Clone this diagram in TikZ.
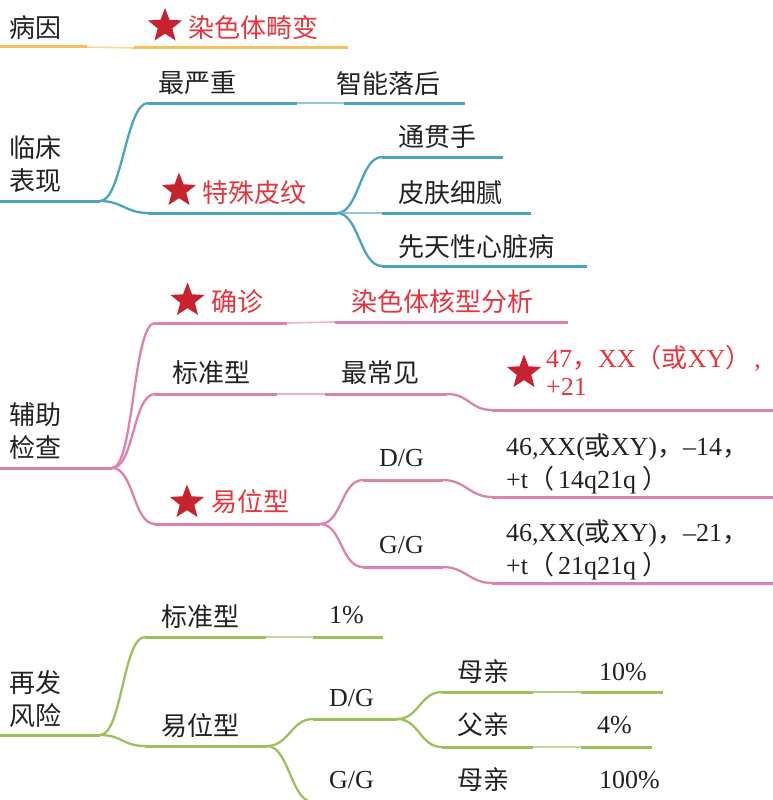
\documentclass[tikz,border=0pt]{standalone}
\usepackage{fontspec}
\setmainfont{Liberation Serif}
\newfontfamily\zhfont{Noto Sans CJK SC}
\usetikzlibrary{shapes.geometric}
\definecolor{cOr}{HTML}{F6BE5C}
\definecolor{cBl}{HTML}{4BA3C4}
\definecolor{cPk}{HTML}{DC82AC}
\definecolor{cGr}{HTML}{9CC05C}
\definecolor{cRed}{HTML}{E8343C}
\definecolor{cStar}{HTML}{C8222E}
\definecolor{cTxt}{HTML}{222222}
\newcommand\zh[1]{{\zhfont #1}}
\begin{document}
\begin{tikzpicture}[x=1pt,y=-1pt,
  lbl/.style={anchor=west,inner sep=0pt,text=cTxt,font=\zhfont\fontsize{26}{32}\selectfont,align=left},
  lbltwo/.style={lbl,font=\zhfont\fontsize{26}{33}\selectfont},
  lat/.style={anchor=west,inner sep=0pt,text=cTxt,font=\fontsize{26}{32}\selectfont,align=left},
  redlbl/.style={lbl,text=cRed},
  redlat/.style={lat,text=cRed},
  starmark/.style={star,star points=5,star point ratio=2.35,minimum size=36pt,inner sep=0pt,fill=cStar,draw=none},
  mainline/.style={line width=3pt},
  thinline/.style={line width=1.6pt},
  curveline/.style={line width=2.3pt},
]
\useasboundingbox (0,0) rectangle (773,800);
\newcommand\conn[3]{\draw[curveline,#1] (#2) .. controls +(22,0) and +(-22,0) .. (#3);}

% ---------------- orange: 病因
\coordinate (o0) at (0,47);
\coordinate (o1) at (87,47);
\coordinate (o2) at (134,48);
\coordinate (o3) at (348,48);
\draw[mainline,cOr] (o0)--(o1);
\draw[thinline,cOr!60] (o1)--(o2);
\draw[mainline,cOr] (o2)--(o3);
\node[lbl] (bingyin) at (9,28) {病因};
\node[starmark] (s1) at (165,26) {};
\node[redlbl] (jibian) at (188,28) {染色体畸变};

% ---------------- blue: 临床表现
\coordinate (b0) at (0,201);
\coordinate (b1) at (100,201);
\coordinate (b2) at (148,103);
\coordinate (b3) at (297,103);
\coordinate (b4) at (344,103);
\coordinate (b5) at (465,103);
\coordinate (b6) at (148,213);
\coordinate (b7) at (337,213);
\coordinate (b8) at (382,157);
\coordinate (b9) at (503,157);
\coordinate (b10) at (382,213);
\coordinate (b11) at (531,213);
\coordinate (b12) at (382,266);
\coordinate (b13) at (587,266);
\draw[mainline,cBl] (b0)--(b1);
\conn{cBl}{b1}{b2}
\draw[mainline,cBl] (b2)--(b3);
\draw[thinline,cBl!60] (b3)--(b4);
\draw[mainline,cBl] (b4)--(b5);
\conn{cBl}{b1}{b6}
\draw[mainline,cBl] (b6)--(b7);
\conn{cBl}{b7}{b8}
\draw[mainline,cBl] (b8)--(b9);
\draw[thinline,cBl!60] (b7)--(b10);
\draw[mainline,cBl] (b10)--(b11);
\conn{cBl}{b7}{b12}
\draw[mainline,cBl] (b12)--(b13);
\node[lbltwo] (linchuang) at (9,164) {临床\\表现};
\node[lbl] (zuiyanzhong) at (158,83) {最严重};
\node[lbl] (zhineng) at (336,84) {智能落后};
\node[starmark] (s2) at (179,190.5) {};
\node[redlbl] (teshu) at (202,193) {特殊皮纹};
\node[lbl] (tongguan) at (398,137) {通贯手};
\node[lbl] (pifu) at (398,193) {皮肤细腻};
\node[lbl] (xiantian) at (398,247) {先天性心脏病};

% ---------------- pink: 辅助检查
\coordinate (p0) at (0,468);
\coordinate (p1) at (112,468);
\coordinate (p2) at (155,323);
\coordinate (p3) at (287,323);
\coordinate (p4) at (335,322);
\coordinate (p5) at (568,322);
\coordinate (p6) at (155,394);
\coordinate (p7) at (277,394);
\coordinate (p8) at (325,394);
\coordinate (p9) at (447,394);
\coordinate (p10) at (492,410);
\coordinate (p11) at (773,410);
\coordinate (p12) at (155,524);
\coordinate (p13) at (320,524);
\coordinate (p14) at (363,480);
\coordinate (p15) at (443,480);
\coordinate (p16) at (492,497);
\coordinate (p17) at (773,497);
\coordinate (p18) at (363,567);
\coordinate (p19) at (443,567);
\coordinate (p20) at (492,583);
\coordinate (p21) at (773,583);
\draw[mainline,cPk] (p0)--(p1);
\conn{cPk}{p1}{p2}
\draw[mainline,cPk] (p2)--(p3);
\draw[thinline,cPk!60] (p3)--(p4);
\draw[mainline,cPk] (p4)--(p5);
\conn{cPk}{p1}{p6}
\draw[mainline,cPk] (p6)--(p7);
\draw[thinline,cPk!60] (p7)--(p8);
\draw[mainline,cPk] (p8)--(p9);
\conn{cPk}{p9}{p10}
\draw[mainline,cPk] (p10)--(p11);
\conn{cPk}{p1}{p12}
\draw[mainline,cPk] (p12)--(p13);
\conn{cPk}{p13}{p14}
\draw[mainline,cPk] (p14)--(p15);
\conn{cPk}{p15}{p16}
\draw[mainline,cPk] (p16)--(p17);
\conn{cPk}{p13}{p18}
\draw[mainline,cPk] (p18)--(p19);
\conn{cPk}{p19}{p20}
\draw[mainline,cPk] (p20)--(p21);
\node[lbltwo] (fuzhu) at (9,431) {辅助\\检查};
\node[starmark] (s3) at (187.5,300.5) {};
\node[redlbl] (quezhen) at (211,302) {确诊};
\node[redlbl] (hexing) at (351,302) {染色体核型分析};
\node[lbl] (biaozhun1) at (172,373) {标准型};
\node[lbl] (zuichang) at (341,373) {最常见};
\node[starmark] (s4) at (524,372.5) {};
\node[redlat] (k47a) at (546,358) {47\zh{，}XX\zh{（或}XY\zh{）}\hspace{3pt},};
\node[redlat] (k47b) at (546,387) {+21};
\node[starmark] (s5) at (187,502.5) {};
\node[redlbl] (yiwei1) at (211,502) {易位型};
\node[lat] (dg1) at (379,458) {D/G};
\node[lat] (gg1) at (379,545) {G/G};
\node[lat] (k14a) at (506,447) {46,XX(\zh{或}XY)\zh{，}–14\zh{，}};
\node[lat] (k14b) at (506,480) {+t\zh{（}\hspace{4pt}14q21q \zh{）}};
\node[lat] (k21a) at (506,533) {46,XX(\zh{或}XY)\zh{，}–21\zh{，}};
\node[lat] (k21b) at (506,566) {+t\zh{（}\hspace{4pt}21q21q \zh{）}};

% ---------------- green: 再发风险
\coordinate (g0) at (0,735);
\coordinate (g1) at (100,735);
\coordinate (g2) at (145,637);
\coordinate (g3) at (266,637);
\coordinate (g4) at (313,637);
\coordinate (g5) at (383,637);
\coordinate (g6) at (145,746);
\coordinate (g7) at (267,746);
\coordinate (g8) at (313,719);
\coordinate (g9) at (397,719);
\coordinate (g10) at (442,692);
\coordinate (g11) at (533,692);
\coordinate (g12) at (581,692);
\coordinate (g13) at (663,692);
\coordinate (g14) at (442,747);
\coordinate (g15) at (533,747);
\coordinate (g16) at (581,747);
\coordinate (g17) at (652,747);
\coordinate (g18) at (313,802);
\coordinate (g19) at (450,802);
\draw[mainline,cGr] (g0)--(g1);
\conn{cGr}{g1}{g2}
\draw[mainline,cGr] (g2)--(g3);
\draw[thinline,cGr!60] (g3)--(g4);
\draw[mainline,cGr] (g4)--(g5);
\conn{cGr}{g1}{g6}
\draw[mainline,cGr] (g6)--(g7);
\conn{cGr}{g7}{g8}
\draw[mainline,cGr] (g8)--(g9);
\conn{cGr}{g9}{g10}
\draw[mainline,cGr] (g10)--(g11);
\draw[thinline,cGr!80] (g11)--(g12);
\draw[mainline,cGr] (g12)--(g13);
\conn{cGr}{g9}{g14}
\draw[mainline,cGr] (g14)--(g15);
\draw[thinline,cGr!60] (g15)--(g16);
\draw[mainline,cGr] (g16)--(g17);
\conn{cGr}{g7}{g18}
\draw[mainline,cGr] (g18)--(g19);
\node[lbltwo] (zaifa) at (9,699) {再发\\风险};
\node[lbl] (biaozhun2) at (161,617) {标准型};
\node[lat] (p1pct) at (329,615) {1\%};
\node[lbl] (yiwei2) at (161,726) {易位型};
\node[lat] (dg2) at (329,698) {D/G};
\node[lat] (gg2) at (329,780) {G/G};
\node[lbl] (muqin1) at (457,672) {母亲};
\node[lat] (p10pct) at (599,672) {10\%};
\node[lbl] (fuqin) at (457,725) {父亲};
\node[lat] (p4pct) at (597,725) {4\%};
\node[lbl] (muqin2) at (457,780) {母亲};
\node[lat] (p100pct) at (599,780) {100\%};
\end{tikzpicture}
\end{document}
